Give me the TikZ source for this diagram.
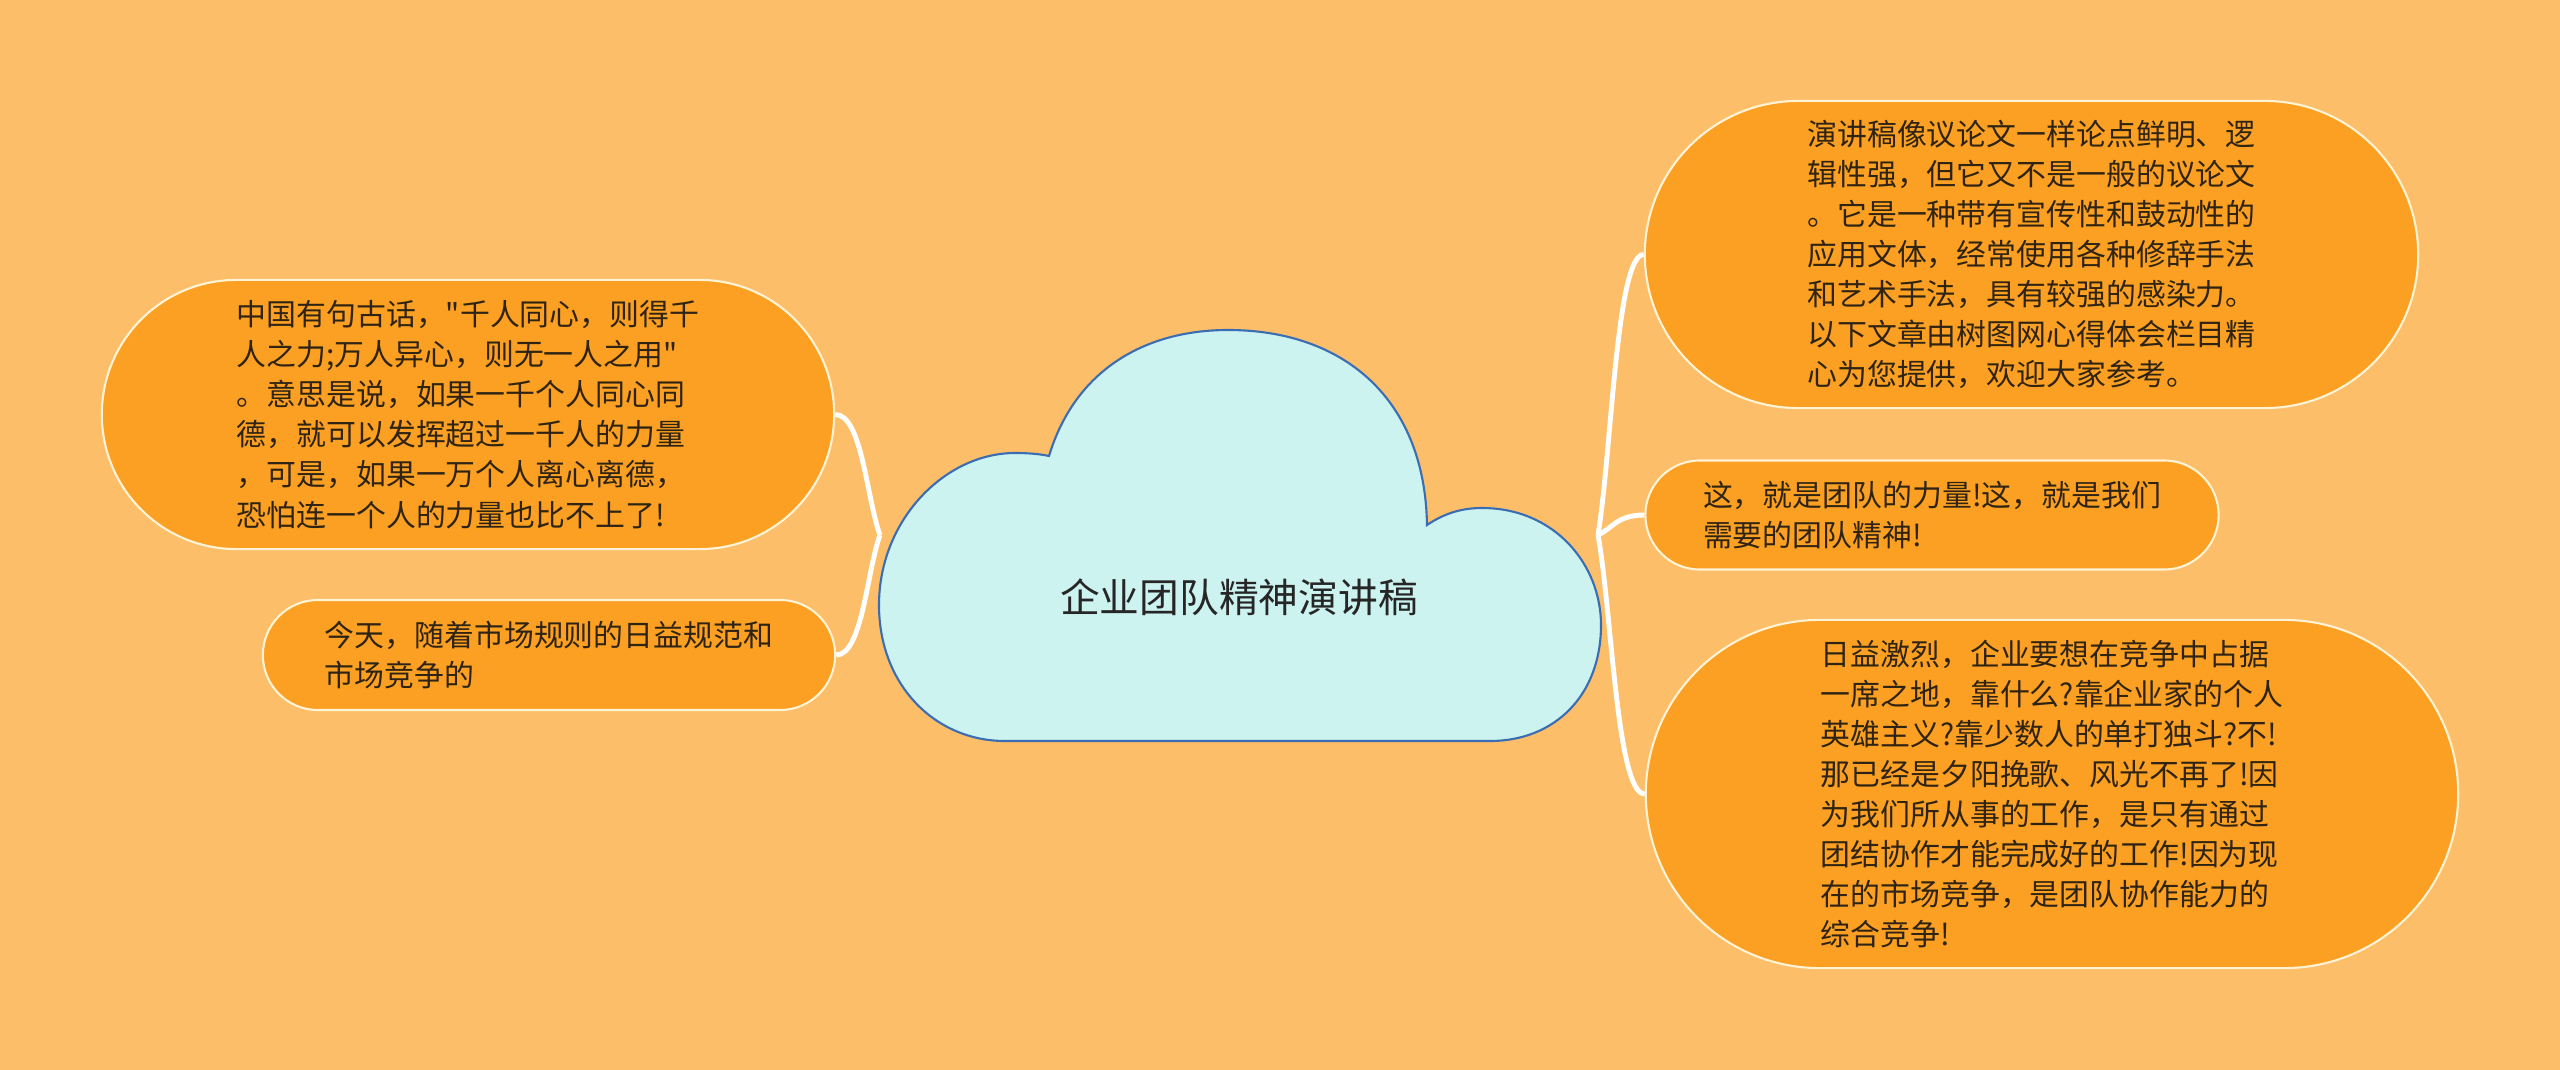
\documentclass[tikz,border=0pt]{standalone}
\usepackage{fontspec}
\setmainfont{Noto Sans CJK SC}[Ligatures=TeXOff]
\usetikzlibrary{shapes.misc,calc}

\definecolor{bgorange}{HTML}{FDBE69}
\definecolor{leaforange}{HTML}{FBA022}
\definecolor{leafline}{HTML}{FFF3D6}
\definecolor{cloudfill}{HTML}{CCF3F0}
\definecolor{cloudline}{HTML}{3B6DB3}
\definecolor{inktext}{HTML}{2F2414}

\begin{document}
\begin{tikzpicture}
[x=0.01cm, y=-0.01cm,
 leaf/.style={rounded rectangle, draw=leafline, fill=leaforange, line width=0.6pt, inner sep=2pt, align=left, text=inktext, font=\fontsize{8.5}{11.4}\selectfont},
 branch/.style={draw=white, line width=1.4pt, to path={.. controls ($(\tikztostart)!0.3!(\tikztotarget)$) and ($(\tikztotarget)!0.6!(\tikztotarget -| \tikztostart)$) .. (\tikztotarget)}}]

\fill[bgorange] (0,0) rectangle (2560,1070);

% central cloud
\draw[cloudline, fill=cloudfill, line width=0.6pt] (1049,456)
  .. controls (1075,370) and (1145,330) .. (1228,330)
  .. controls (1345,330) and (1425,400) .. (1427,525)
  .. controls (1445,513) and (1462,508) .. (1482,508)
  .. controls (1555,508) and (1601,565) .. (1601,625)
  .. controls (1601,695) and (1555,741) .. (1490,741)
  -- (1005,741)
  .. controls (935,741) and (879,685) .. (879,605)
  .. controls (879,520) and (945,453) .. (1015,453)
  .. controls (1028,453) and (1040,454) .. (1049,456) -- cycle;
\node (title) at (1239,597) [font=\fontsize{11.3}{13}\selectfont, text=black!85] {企业团队精神演讲稿};

\coordinate (jl) at (880,535);
\coordinate (jr) at (1598,535);

\node (l1) at (468,414.5) [leaf, minimum width=7.46cm, minimum height=2.69cm] {中国有句古话，"千人同心，则得千\\人之力;万人异心，则无一人之用"\\。意思是说，如果一千个人同心同\\德，就可以发挥超过一千人的力量\\，可是，如果一万个人离心离德，\\恐怕连一个人的力量也比不上了!};
\node (l2) at (549,655) [leaf, minimum width=5.86cm, minimum height=1.1cm] {今天，随着市场规则的日益规范和\\市场竞争的};

\node (r1) at (2031.5,254.5) [leaf, minimum width=7.87cm, minimum height=3.07cm] {演讲稿像议论文一样论点鲜明、逻\\辑性强，但它又不是一般的议论文\\。它是一种带有宣传性和鼓动性的\\应用文体，经常使用各种修辞手法\\和艺术手法，具有较强的感染力。\\以下文章由树图网心得体会栏目精\\心为您提供，欢迎大家参考。};
\node (r2) at (1932,515) [leaf, minimum width=5.87cm, minimum height=1.09cm] {这，就是团队的力量!这，就是我们\\需要的团队精神!};
\node (r3) at (2052,794) [leaf, minimum width=8.26cm, minimum height=3.48cm] {日益激烈，企业要想在竞争中占据\\一席之地，靠什么?靠企业家的个人\\英雄主义?靠少数人的单打独斗?不!\\那已经是夕阳挽歌、风光不再了!因\\为我们所从事的工作，是只有通过\\团结协作才能完成好的工作!因为现\\在的市场竞争，是团队协作能力的\\综合竞争!};

\foreach \from/\to in {jl/l1.east, jl/l2.east, jr/r1.west, jr/r2.west, jr/r3.west}
	\draw[branch] (\from) to (\to);

\end{tikzpicture}
\end{document}
